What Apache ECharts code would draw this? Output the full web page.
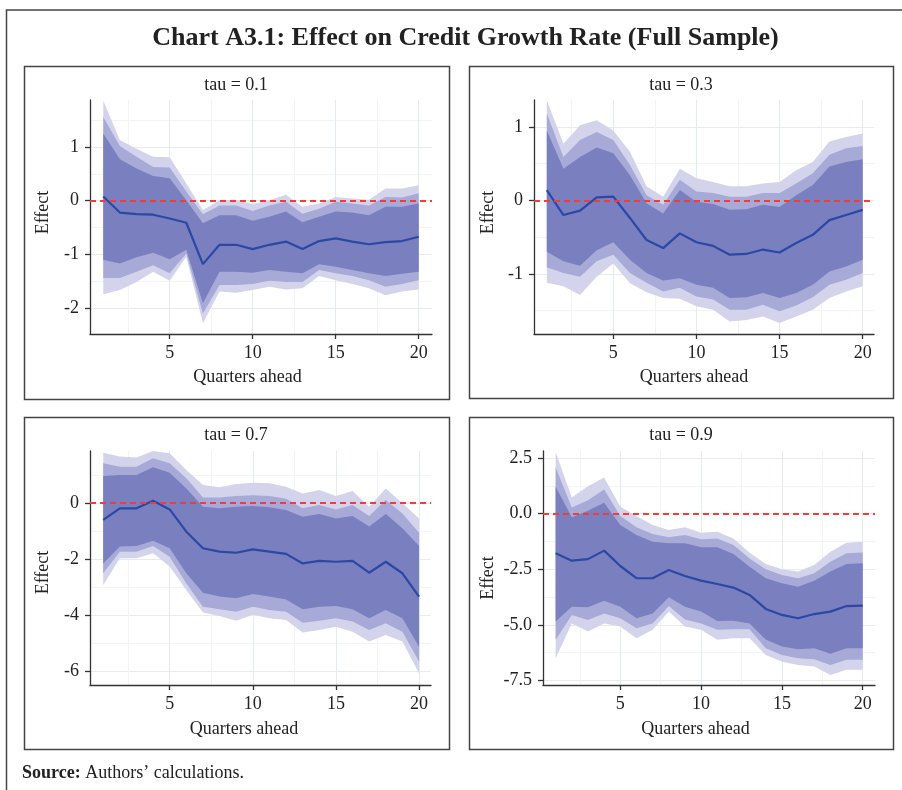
<!DOCTYPE html>
<html><head><meta charset="utf-8">
<script src="https://cdn.jsdelivr.net/npm/echarts@6/dist/echarts.min.js"></script>
<style>html,body{margin:0;padding:0;background:#fff}#c{width:902px;height:790px}</style>
</head><body><div id="c"></div>
<script>
// ---------- DATA ----------
const quarters = [1,2,3,4,5,6,7,8,9,10,11,12,13,14,15,16,17,18,19,20];
const chartTitle = 'Chart A3.1: Effect on Credit Growth Rate (Full Sample)';
const sourceLabel = 'Source:';
const sourceText = ' Authors\u2019 calculations.';
const panelTitles = ['tau = 0.1', 'tau = 0.3', 'tau = 0.7', 'tau = 0.9'];
const xAxisTitle = 'Quarters ahead';
const yAxisTitle = 'Effect';
const xMajorTicks = [5, 10, 15, 20];
const xMinorTicks = [2.5, 7.5, 12.5, 17.5];
const yMajorTicks = [[-2,-1,0,1], [-1,0,1], [-6,-4,-2,0], [-7.5,-5,-2.5,0,2.5]];
const yMinorTicks = [[-1.5,-0.5,0.5,1.5], [-1.5,-0.5,0.5], [-5,-3,-1,1], [-6.25,-3.75,-1.25,1.25]];

// tau = 0.1
const t1_med = [0.08,-0.22,-0.25,-0.26,-0.33,-0.41,-1.18,-0.82,-0.82,-0.90,-0.82,-0.76,-0.90,-0.75,-0.70,-0.76,-0.81,-0.77,-0.75,-0.67];
const t1_hi1 = [1.25,0.77,0.60,0.46,0.42,0.01,-0.42,-0.27,-0.27,-0.37,-0.30,-0.20,-0.40,-0.30,-0.20,-0.22,-0.27,-0.11,-0.11,-0.05];
const t1_lo1 = [-1.10,-1.17,-1.05,-0.97,-1.09,-0.91,-1.91,-1.32,-1.32,-1.34,-1.29,-1.32,-1.35,-1.18,-1.23,-1.29,-1.35,-1.40,-1.36,-1.32];
const t1_hi2 = [1.56,1.02,0.82,0.63,0.62,0.17,-0.25,-0.09,-0.09,-0.19,-0.09,-0.02,-0.24,-0.15,-0.02,-0.05,-0.09,0.07,0.06,0.14];
const t1_lo2 = [-1.44,-1.44,-1.32,-1.20,-1.35,-0.98,-2.10,-1.57,-1.57,-1.55,-1.49,-1.51,-1.51,-1.29,-1.35,-1.40,-1.48,-1.60,-1.55,-1.48];
const t1_hi3 = [1.86,1.13,0.97,0.82,0.81,0.32,-0.17,0.01,0.02,-0.06,0.01,0.11,-0.11,-0.05,0.07,0.04,0.02,0.23,0.23,0.29];
const t1_lo3 = [-1.74,-1.66,-1.51,-1.32,-1.49,-1.04,-2.28,-1.69,-1.71,-1.66,-1.60,-1.65,-1.63,-1.40,-1.48,-1.55,-1.63,-1.76,-1.69,-1.65];

// tau = 0.3
const t3_med = [0.14,-0.20,-0.14,0.04,0.05,-0.24,-0.54,-0.65,-0.45,-0.57,-0.62,-0.74,-0.73,-0.67,-0.71,-0.58,-0.47,-0.27,-0.20,-0.13];
const t3_hi1 = [0.95,0.43,0.59,0.72,0.64,0.34,-0.04,-0.18,0.14,-0.02,-0.05,-0.13,-0.12,-0.06,-0.09,0.07,0.21,0.46,0.52,0.56];
const t3_lo1 = [-0.70,-0.83,-0.89,-0.68,-0.57,-0.81,-0.99,-1.09,-1.06,-1.15,-1.19,-1.33,-1.32,-1.26,-1.33,-1.26,-1.15,-0.97,-0.90,-0.81];
const t3_hi2 = [1.18,0.59,0.82,0.93,0.82,0.48,0.07,-0.06,0.28,0.12,0.10,0.05,0.05,0.10,0.10,0.23,0.37,0.62,0.71,0.74];
const t3_lo2 = [-0.91,-0.99,-1.04,-0.83,-0.74,-0.99,-1.12,-1.24,-1.19,-1.31,-1.35,-1.49,-1.49,-1.42,-1.51,-1.43,-1.32,-1.15,-1.08,-0.99];
const t3_hi3 = [1.36,0.77,1.02,1.09,0.95,0.66,0.19,0.05,0.43,0.30,0.25,0.19,0.19,0.23,0.25,0.41,0.52,0.80,0.86,0.91];
const t3_lo3 = [-1.12,-1.17,-1.29,-1.04,-0.86,-1.13,-1.25,-1.33,-1.34,-1.44,-1.49,-1.65,-1.63,-1.58,-1.67,-1.58,-1.49,-1.33,-1.24,-1.17];

// tau = 0.7
const t7_med = [-0.60,-0.19,-0.19,0.08,-0.23,-1.02,-1.61,-1.73,-1.77,-1.65,-1.73,-1.81,-2.15,-2.06,-2.09,-2.06,-2.48,-2.09,-2.50,-3.33];
const t7_hi1 = [0.96,1.00,1.00,1.27,1.08,0.52,-0.13,-0.19,-0.13,-0.11,-0.15,-0.25,-0.49,-0.39,-0.55,-0.46,-0.84,-0.39,-0.90,-1.53];
const t7_lo1 = [-2.15,-1.55,-1.53,-1.34,-1.61,-2.50,-3.19,-3.33,-3.39,-3.24,-3.33,-3.43,-3.78,-3.69,-3.66,-3.78,-4.10,-3.81,-4.10,-5.11];
const t7_hi2 = [1.41,1.29,1.29,1.59,1.41,0.88,0.20,0.20,0.25,0.28,0.25,0.15,-0.19,-0.07,-0.23,-0.07,-0.46,0.11,-0.37,-1.06];
const t7_lo2 = [-2.50,-1.73,-1.73,-1.53,-1.91,-2.86,-3.69,-3.78,-3.87,-3.69,-3.81,-3.87,-4.26,-4.19,-4.10,-4.22,-4.52,-4.28,-4.58,-5.64];
const t7_hi3 = [1.79,1.65,1.62,1.90,1.77,1.17,0.64,0.56,0.68,0.72,0.70,0.58,0.34,0.46,0.25,0.43,-0.13,0.52,-0.01,-0.55];
const t7_lo3 = [-2.92,-1.97,-1.97,-1.79,-2.26,-3.10,-3.90,-4.02,-4.19,-3.98,-4.10,-4.16,-4.61,-4.52,-4.40,-4.58,-4.93,-4.70,-4.93,-6.06];

// tau = 0.9
const t9_med = [-1.78,-2.11,-2.04,-1.66,-2.35,-2.90,-2.90,-2.53,-2.80,-3.01,-3.16,-3.32,-3.65,-4.28,-4.55,-4.70,-4.51,-4.40,-4.15,-4.13];
const t9_hi1 = [1.21,-0.16,0.13,0.49,-0.51,-0.96,-1.26,-1.33,-1.33,-1.51,-1.51,-1.81,-2.38,-2.90,-3.13,-3.28,-3.01,-2.60,-2.26,-2.23];
const t9_lo1 = [-4.85,-4.18,-4.21,-3.91,-4.18,-4.70,-4.48,-3.76,-4.18,-4.40,-4.82,-4.81,-4.93,-5.66,-5.97,-6.09,-6.05,-6.30,-6.05,-6.05];
const t9_hi2 = [2.08,0.28,0.61,1.09,-0.10,-0.61,-0.91,-1.06,-0.96,-1.15,-1.11,-1.41,-2.01,-2.50,-2.75,-2.90,-2.68,-2.16,-1.78,-1.74];
const t9_lo2 = [-5.67,-4.55,-4.78,-4.48,-4.70,-5.15,-4.93,-4.15,-4.75,-4.93,-5.22,-5.19,-5.19,-6.05,-6.35,-6.50,-6.54,-6.80,-6.57,-6.57];
const t9_hi3 = [2.78,0.73,1.24,1.63,0.31,-0.10,-0.51,-0.73,-0.61,-0.85,-0.81,-1.11,-1.75,-2.26,-2.50,-2.60,-2.31,-1.71,-1.30,-1.26];
const t9_lo3 = [-6.50,-4.93,-5.30,-4.93,-5.07,-5.60,-5.22,-4.40,-5.07,-5.22,-5.67,-5.60,-5.60,-6.35,-6.65,-6.80,-6.87,-7.25,-7.02,-7.02];

const referenceLine = 0;

// ---------- LAYOUT / STYLE ----------
const FONT = 'Liberation Serif';
const C_OUT = '#d3d4ec', C_MID = '#a7a9d7', C_IN = '#7a7fc0', C_LINE = '#2c48a5';
const panels = [
  {med:t1_med, b:[[t1_lo3,t1_hi3],[t1_lo2,t1_hi2],[t1_lo1,t1_hi1]], box:[24.5,66.5,425,333],
   grid:{left:90,top:100,width:342,height:234}, xr:[0.2,20.8], yr:[-2.48,1.875], t:[236,85], xn:[247.5,377], yn:[43,212.5], fmt:v=>String(v)},
  {med:t3_med, b:[[t3_lo3,t3_hi3],[t3_lo2,t3_hi2],[t3_lo1,t3_hi1]], box:[469.5,66.5,424,332],
   grid:{left:534,top:100,width:340,height:234}, xr:[0.23,20.68], yr:[-1.819,1.365], t:[681,85], xn:[694,377], yn:[488,212.5], fmt:v=>String(v)},
  {med:t7_med, b:[[t7_lo3,t7_hi3],[t7_lo2,t7_hi2],[t7_lo1,t7_hi1]], box:[24.5,417.5,425,332],
   grid:{left:90,top:451,width:341,height:234}, xr:[0.205,20.72], yr:[-6.475,1.85], t:[236,435.5], xn:[244,729], yn:[43,572.5], fmt:v=>String(v)},
  {med:t9_med, b:[[t9_lo3,t9_hi3],[t9_lo2,t9_hi2],[t9_lo1,t9_hi1]], box:[469.5,417.5,424,332],
   grid:{left:543,top:451,width:332,height:234}, xr:[0.217,20.76], yr:[-7.70,2.82], t:[681,435.5], xn:[695.5,729], yn:[488,578], fmt:v=>v.toFixed(1)}
];
const bandColors = [C_OUT, C_MID, C_IN];

const grids = [], xAxes = [], yAxes = [], series = [], graphics = [];
const axisLineStyle = {color:'#333', width:1.3};
const labelStyle = {fontFamily:FONT, fontSize:18, color:'#222'};

graphics.push({type:'rect', shape:{x:6.5,y:10,width:1000,height:1000}, style:{fill:'none', stroke:'#444', lineWidth:1.5}, silent:true});
graphics.push({type:'text', x:465.5, y:38, style:{text:chartTitle, font:'bold 26px "' + FONT + '"', fill:'#222', align:'center', verticalAlign:'middle'}});
graphics.push({type:'text', x:22, y:773, style:{text:'{b|' + sourceLabel + '}' + sourceText, font:'18px "' + FONT + '"', fill:'#222', align:'left', verticalAlign:'middle',
  rich:{b:{fontFamily:FONT, fontSize:18, fontWeight:'bold', fill:'#222'}}}});

function bandRenderer(lo, hi, color) {
  return function (params, api) {
    if (params.dataIndex !== 0) return null;
    const top = [], bot = [];
    for (let j = 0; j < quarters.length; j++) {
      top.push(api.coord([quarters[j], hi[j]]));
      bot.push(api.coord([quarters[j], lo[j]]));
    }
    const pts = top.concat(bot.reverse());
    const cs = params.coordSys;
    return {type:'polygon', shape:{points: echarts.graphic.clipPointsByRect(pts, {x:cs.x, y:cs.y, width:cs.width, height:cs.height})},
      style:{fill:color, stroke:null}};
  };
}

panels.forEach((p, i) => {
  grids.push(Object.assign({containLabel:false}, p.grid));
  const xi = xAxes.length, yi = yAxes.length;
  xAxes.push({gridIndex:i, type:'value', min:p.xr[0], max:p.xr[1], position:'bottom',
    axisLine:{show:true, onZero:false, lineStyle:axisLineStyle},
    axisTick:{show:true, length:5, customValues:xMajorTicks, lineStyle:axisLineStyle},
    axisLabel:Object.assign({customValues:xMajorTicks, margin:10}, labelStyle),
    splitLine:{show:true, lineStyle:{color:'#e5eaee', width:1}}});
  xAxes.push({gridIndex:i, type:'value', min:p.xr[0], max:p.xr[1], position:'bottom',
    axisLine:{show:false}, axisTick:{show:false, customValues:xMinorTicks},
    axisLabel:{show:false, customValues:xMinorTicks},
    splitLine:{show:true, lineStyle:{color:'#f1f4f6', width:1}}});
  yAxes.push({gridIndex:i, type:'value', min:p.yr[0], max:p.yr[1], position:'left',
    axisLine:{show:true, onZero:false, lineStyle:axisLineStyle},
    axisTick:{show:true, length:5, customValues:yMajorTicks[i], lineStyle:axisLineStyle},
    axisLabel:Object.assign({customValues:yMajorTicks[i], margin:11, formatter:p.fmt}, labelStyle),
    splitLine:{show:true, lineStyle:{color:'#e8eaed', width:1}}});
  yAxes.push({gridIndex:i, type:'value', min:p.yr[0], max:p.yr[1], position:'left',
    axisLine:{show:false}, axisTick:{show:false, customValues:yMinorTicks[i]},
    axisLabel:{show:false, customValues:yMinorTicks[i]},
    splitLine:{show:true, lineStyle:{color:'#f2f3f5', width:1}}});

  p.b.forEach((band, k) => {
    const lo = band[0], hi = band[1];
    series.push({type:'custom', xAxisIndex:xi, yAxisIndex:yi, clip:true, silent:true, animation:false, z:2,
      data:quarters.map((q, j) => [q, lo[j], hi[j]]), encode:{x:0, y:[1,2]},
      renderItem:bandRenderer(lo, hi, bandColors[k])});
  });
  series.push({type:'line', xAxisIndex:xi, yAxisIndex:yi, data:quarters.map((q, j) => [q, p.med[j]]),
    symbol:'none', lineStyle:{color:C_LINE, width:2.2}, silent:true, animation:false, z:3,
    markLine:{silent:true, symbol:'none', label:{show:false}, animation:false,
      lineStyle:{color:'#f03c3c', width:2, type:[6,4]}, data:[{yAxis:referenceLine}]}});

  graphics.push({type:'rect', shape:{x:p.box[0], y:p.box[1], width:p.box[2], height:p.box[3]},
    style:{fill:'none', stroke:'#444', lineWidth:1.5}, silent:true});
  graphics.push({type:'text', x:p.t[0], y:p.t[1], style:{text:panelTitles[i], font:'18px "' + FONT + '"', fill:'#222', align:'center', verticalAlign:'middle'}});
  graphics.push({type:'text', x:p.xn[0], y:p.xn[1], style:{text:xAxisTitle, font:'18px "' + FONT + '"', fill:'#222', align:'center', verticalAlign:'middle'}});
  graphics.push({type:'text', x:p.yn[0], y:p.yn[1], rotation:Math.PI/2, style:{text:yAxisTitle, font:'18px "' + FONT + '"', fill:'#222', align:'center', verticalAlign:'middle'}});
});

const chart = echarts.init(document.getElementById('c'), null, {renderer:'canvas'});
chart.setOption({backgroundColor:'#fff', animation:false, grid:grids, xAxis:xAxes, yAxis:yAxes, series:series, graphic:graphics});
</script></body></html>
